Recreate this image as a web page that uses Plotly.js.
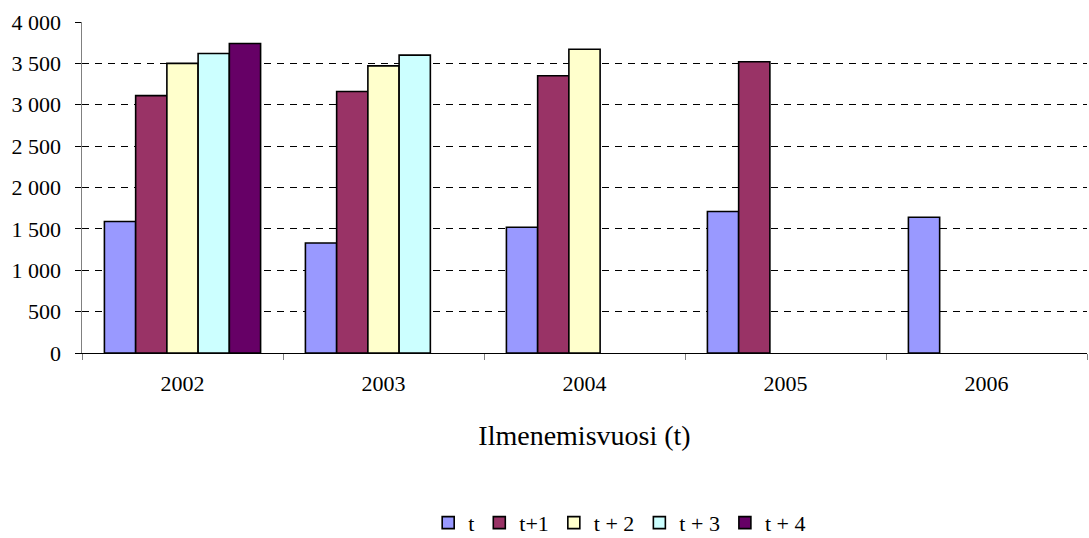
<!DOCTYPE html>
<html>
<head>
<meta charset="utf-8">
<script src="https://cdn.plot.ly/plotly-3.0.1.min.js"></script>
<style>
  html, body { margin: 0; padding: 0; background: #ffffff; font-family: 'Liberation Serif', serif; }
  #chart { width: 1089px; height: 538px; }
  /* every label of the chart in the serif face */
  #chart svg text { font-family: 'Liberation Serif', serif !important; }
</style>
</head>
<body>
<div id="chart"></div>
<script>
// Occurrence years (t) on the category axis
const years = ['2002', '2003', '2004', '2005', '2006'];

// Development series: amounts reported in year t, t+1, ... t+4
const seriesNames = ['t', 't+1', 't + 2', 't + 3', 't + 4'];
const valuesT  = [1590, 1330, 1520, 1710, 1640];
const valuesT1 = [3110, 3160, 3350, 3520, null];
const valuesT2 = [3500, 3470, 3670, null, null];
const valuesT3 = [3620, 3600, null, null, null];
const valuesT4 = [3740, null, null, null, null];

const seriesColors = ['#9999FF', '#993366', '#FFFFCC', '#CCFFFF', '#660066'];

const seriesValues = [valuesT, valuesT1, valuesT2, valuesT3, valuesT4];

const serif = 'Liberation Serif';

const traces = seriesValues.map((vals, i) => ({
  type: 'bar',
  name: seriesNames[i],
  x: years,
  y: vals,
  marker: {
    color: seriesColors[i],
    line: { color: '#000000', width: 1.6 }
  },
  hoverinfo: 'x+y+name'
}));

const layout = {
  width: 1089,
  height: 538,
  margin: { l: 82, r: 2, t: 21.5, b: 185, autoexpand: false },
  paper_bgcolor: '#ffffff',
  plot_bgcolor: '#ffffff',
  separators: ', ',
  barmode: 'group',
  bargap: 0.223,
  bargroupgap: 0,
  font: { family: serif, color: '#000000', size: 22 },
  xaxis: {
    type: 'category',
    range: [-0.5, 4.5],
    showline: true,
    linecolor: '#000000',
    linewidth: 1.2,
    ticks: 'outside',
    tickson: 'boundaries',
    ticklen: 6,
    tickcolor: '#808080',
    tickwidth: 1,
    ticklabelstandoff: 10,
    tickfont: { family: serif, size: 22, color: '#000000' },
    showgrid: false,
    zeroline: false,
    title: {
      text: 'Ilmenemisvuosi (t)',
      font: { family: serif, size: 28, color: '#000000' },
      standoff: 30
    },
    automargin: false
  },
  yaxis: {
    range: [0, 4000],
    dtick: 500,
    tick0: 0,
    separatethousands: true,
    showline: true,
    linecolor: '#808080',
    linewidth: 1.5,
    ticks: 'outside',
    ticklen: 6,
    tickcolor: '#000000',
    tickwidth: 1,
    ticklabelstandoff: 9,
    tickfont: { family: serif, size: 22, color: '#000000' },
    showgrid: true,
    gridcolor: '#000000',
    gridwidth: 1,
    griddash: '7px,6px',
    zeroline: false,
    automargin: false
  },
  showlegend: true,
  legend: {
    orientation: 'h',
    x: 0.535,
    xanchor: 'center',
    y: -0.513,
    yanchor: 'middle',
    font: { family: serif, size: 22, color: '#000000' },
    bgcolor: 'rgba(0,0,0,0)',
    itemclick: false,
    itemdoubleclick: false
  }
};

Plotly.newPlot('chart', traces, layout, { displayModeBar: false, staticPlot: true });
</script>
</body>
</html>
